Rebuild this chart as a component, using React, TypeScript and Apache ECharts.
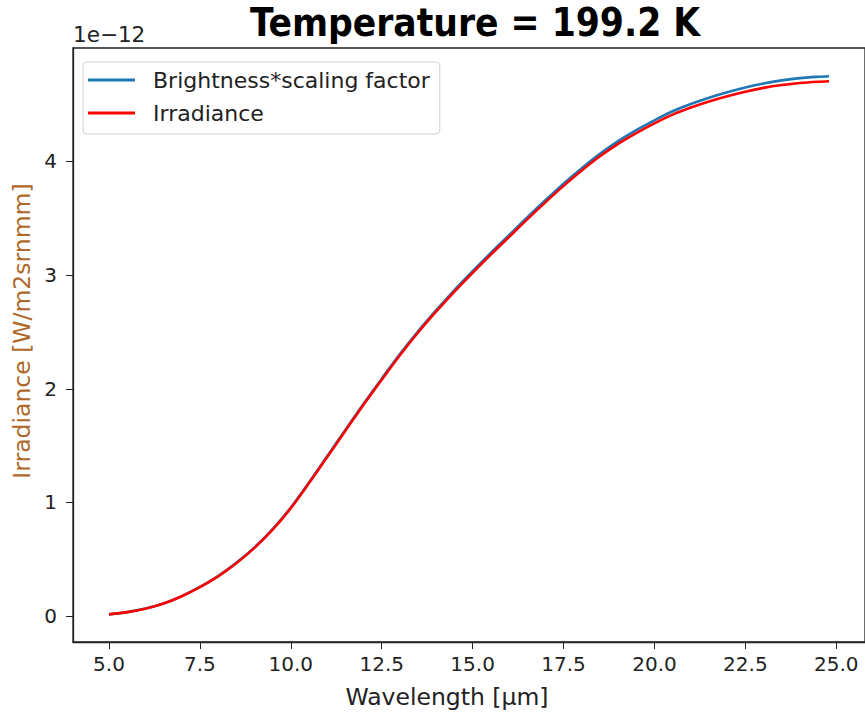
import React, { useEffect, useRef } from "react";
import * as echarts from "echarts";

// Wavelength [µm]
const wavelengths = [
  5.0, 5.5, 6.0, 6.5, 7.0, 7.5, 8.0, 8.5, 9.0, 9.5, 10.0, 10.5, 11.0, 11.5, 12.0,
  12.5, 13.0, 13.5, 14.0, 14.5, 15.0, 15.5, 16.0, 16.5, 17.0, 17.5, 18.0, 18.5,
  19.0, 19.5, 20.0, 20.5, 21.0, 21.5, 22.0, 22.5, 23.0, 23.5, 24.0, 24.5, 24.8,
];
// Brightness*scaling factor (units of 1e-12 W/m2srnmm)
const brightness = [
  0.015, 0.035, 0.066, 0.111, 0.176, 0.257, 0.352, 0.468, 0.604, 0.765, 0.955,
  1.176, 1.407, 1.638, 1.868, 2.089, 2.305, 2.506, 2.692, 2.868, 3.034, 3.195,
  3.351, 3.507, 3.658, 3.804, 3.94, 4.067, 4.179, 4.276, 4.362, 4.441, 4.505,
  4.561, 4.609, 4.651, 4.686, 4.713, 4.733, 4.745, 4.75,
];
// Irradiance (units of 1e-12 W/m2srnmm)
const irradiance = [
  0.015, 0.035, 0.065, 0.11, 0.175, 0.255, 0.35, 0.465, 0.6, 0.76, 0.95, 1.17,
  1.4, 1.63, 1.86, 2.08, 2.295, 2.495, 2.68, 2.855, 3.02, 3.18, 3.335, 3.49, 3.64,
  3.785, 3.92, 4.045, 4.155, 4.25, 4.335, 4.412, 4.474, 4.528, 4.574, 4.614,
  4.647, 4.672, 4.69, 4.701, 4.705,
];
const xTicks = [5, 7.5, 10, 12.5, 15, 17.5, 20, 22.5, 25];
const yTicks = [0, 1, 2, 3, 4];

const TITLE = "Temperature = 199.2 K";
const SERIES_NAMES = ["Brightness*scaling factor", "Irradiance"];
const X_NAME = "Wavelength [\u03bcm]";
const Y_NAME = "Irradiance [W/m2srnmm]";
const OFFSET_TEXT = "1e\u221212";

export default function App() {
  const ref = useRef<HTMLDivElement>(null);
  useEffect(() => {
    document.body.style.margin = "0";
    const chart = echarts.init(ref.current!, null, { renderer: "svg" });
    const font = "DejaVu Sans";
    chart.setOption({
      animation: false,
      backgroundColor: "#ffffff",
      title: {
        text: TITLE,
        left: 470,
        textAlign: "center",
        top: -2,
        textStyle: {
          fontFamily: "'Liberation Sans Narrow', 'DejaVu Sans Condensed', 'Open Sans', sans-serif",
          fontWeight: "bold",
          fontSize: 38.5,
          color: "#000",
        },
      },
      graphic: [
        {
          type: "text",
          left: 73,
          top: 23,
          style: { text: OFFSET_TEXT, font: `21.5px '${font}'`, fill: "#222" },
        },
        {
          type: "text",
          x: 447,
          y: 697,
          style: {
            text: X_NAME,
            font: `23.5px '${font}'`,
            fill: "#222",
            align: "center",
            verticalAlign: "middle",
          },
        },
        {
          type: "text",
          x: 22,
          y: 331,
          rotation: Math.PI / 2,
          style: {
            text: Y_NAME,
            font: `23.5px '${font}'`,
            fill: "#b0682a",
            align: "center",
            verticalAlign: "middle",
          },
        },
      ],
      legend: {
        left: 83,
        top: 62,
        orient: "vertical",
        data: SERIES_NAMES,
        icon: "rect",
        itemWidth: 47,
        itemHeight: 3,
        itemGap: 9,
        padding: [6, 10, 9, 5],
        backgroundColor: "#fff",
        borderColor: "#d0d0d0",
        borderWidth: 1,
        borderRadius: 4,
        textStyle: {
          fontFamily: font,
          fontSize: 22,
          color: "#222",
          lineHeight: 24,
          padding: [0, 0, 0, 13],
        },
      },
      grid: {
        left: 73,
        top: 48,
        width: 793,
        height: 594,
        show: true,
        borderColor: "#222",
        borderWidth: 1.3,
      },
      xAxis: {
        type: "value",
        min: 4.01,
        max: 25.79,
        axisLine: { show: true, onZero: false, lineStyle: { color: "#222", width: 1.3 } },
        axisTick: { show: true, customValues: xTicks, length: 7, lineStyle: { color: "#222" } },
        axisLabel: {
          customValues: xTicks,
          formatter: (v: number) => v.toFixed(1),
          fontFamily: font,
          fontSize: 20,
          color: "#222",
          margin: 12,
        },
        splitLine: { show: false },
      },
      yAxis: {
        type: "value",
        min: -0.228,
        max: 4.998,
        axisLine: { show: true, onZero: false, lineStyle: { color: "#222", width: 1.3 } },
        axisTick: { show: true, customValues: yTicks, length: 7, lineStyle: { color: "#222" } },
        axisLabel: {
          customValues: yTicks,
          formatter: (v: number) => String(v),
          fontFamily: font,
          fontSize: 20,
          color: "#222",
          margin: 16,
        },
        splitLine: { show: false },
      },
      series: [
        {
          name: SERIES_NAMES[0],
          type: "line",
          data: wavelengths.map((w, i) => [w, brightness[i]]),
          showSymbol: false,
          smooth: 0.3,
          lineStyle: { color: "#1f77b4", width: 2.6 },
          itemStyle: { color: "#1f77b4" },
        },
        {
          name: SERIES_NAMES[1],
          type: "line",
          data: wavelengths.map((w, i) => [w, irradiance[i]]),
          showSymbol: false,
          smooth: 0.3,
          lineStyle: { color: "#ff0000", width: 2.6 },
          itemStyle: { color: "#ff0000" },
        },
      ],
    });
    return () => chart.dispose();
  }, []);
  return <div ref={ref} style={{ width: 865, height: 718 }} />;
}
